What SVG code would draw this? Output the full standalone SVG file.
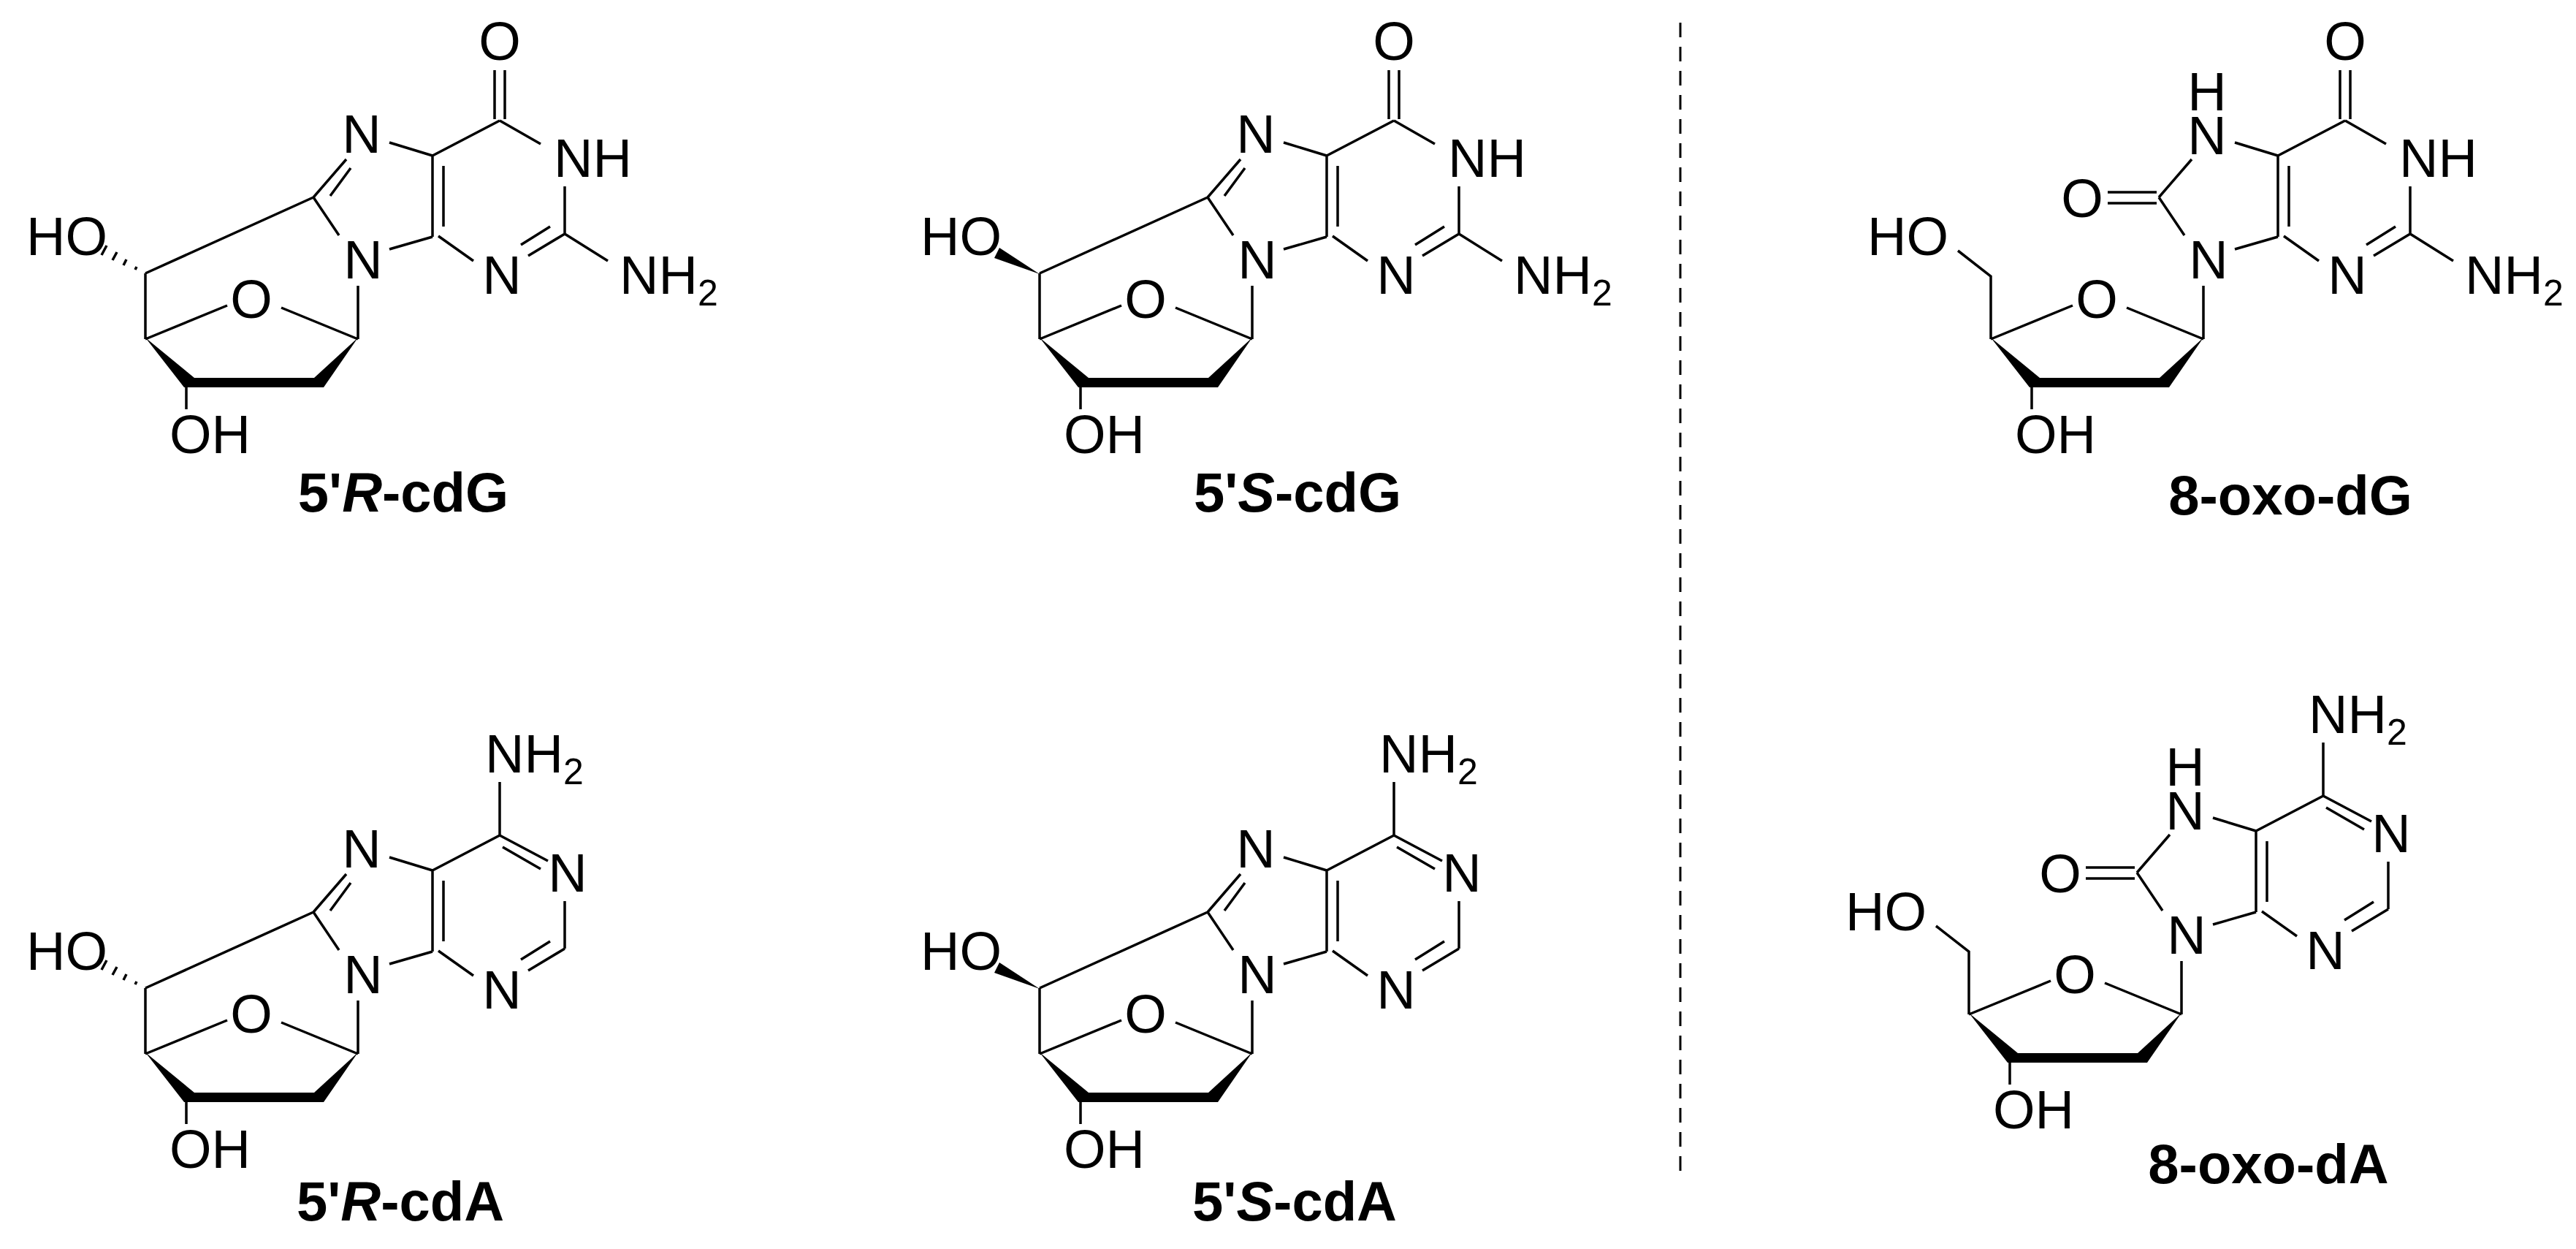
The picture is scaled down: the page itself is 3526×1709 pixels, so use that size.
<svg xmlns="http://www.w3.org/2000/svg" width="3526" height="1709" viewBox="0 0 3526 1709">
<style>
.b{stroke:#000;stroke-width:3.5;fill:none;stroke-linecap:butt}
.w{fill:#000;stroke:none}
.t{font-family:"Liberation Sans",Arial,sans-serif;font-size:74px;fill:#000}
.m{text-anchor:middle}
.lb{font-family:"Liberation Sans",Arial,sans-serif;font-size:76px;font-weight:bold;fill:#000;text-anchor:middle}
.s{font-size:50px}
</style>
<rect width="3526" height="1709" fill="#fff"/>
<g id="connectors">
<line x1="2300" y1="31" x2="2300" y2="1611" stroke="#000" stroke-width="3" stroke-dasharray="20 13"/>
</g>

<g id="mol-5R-cdG">
<path class="b" d="M592,213L533,195M474,218L429,270M480,230L452,268M429,270L464,322M533,341L592,324M592,213L592,324M607,227L607,310M684,165L592,213M600,323L648,357M773,320L723,350M753,310L713,335M773,255L773,320M684,165L740,197M677,96L677,163M691,96L691,163M773,320L832,357M429,270L199,374M199,374L199,464M199,464L311,418M385,421L490,464M490,391L490,464M255,530L255,560"/>
<polygon class="w" points="199,462 266,517 430,517 490,462 443,530 252,530"/>
<path class="b" stroke-width="3" d="M185,369L187,365M169,363L173,355M154,356L160,345M139,349L146,336"/>
<text class="t m" x="684" y="82">O</text>
<text class="t" x="758" y="242">NH</text>
<text class="t m" x="687" y="402">N</text>
<text class="t" x="848" y="402">NH<tspan class="s" dy="16">2</tspan></text>
<text class="t m" x="495" y="209">N</text>
<text class="t m" x="497" y="381">N</text>
<text class="t m" x="344" y="435">O</text>
<text class="t" x="36" y="349">HO</text>
<text class="t" x="232" y="620">OH</text>
<text class="lb" x="552" y="700">5'<tspan font-style="italic">R</tspan>-cdG</text>
</g>

<g id="mol-5S-cdG" transform="translate(1224,0)">
<path class="b" d="M592,213L533,195M474,218L429,270M480,230L452,268M429,270L464,322M533,341L592,324M592,213L592,324M607,227L607,310M684,165L592,213M600,323L648,357M773,320L723,350M753,310L713,335M773,255L773,320M684,165L740,197M677,96L677,163M691,96L691,163M773,320L832,357M429,270L199,374M199,374L199,464M199,464L311,418M385,421L490,464M490,391L490,464M255,530L255,560"/>
<polygon class="w" points="199,462 266,517 430,517 490,462 443,530 252,530"/>
<polygon class="w" points="199,375 144,339 137,353"/>
<text class="t m" x="684" y="82">O</text>
<text class="t" x="758" y="242">NH</text>
<text class="t m" x="687" y="402">N</text>
<text class="t" x="848" y="402">NH<tspan class="s" dy="16">2</tspan></text>
<text class="t m" x="495" y="209">N</text>
<text class="t m" x="497" y="381">N</text>
<text class="t m" x="344" y="435">O</text>
<text class="t" x="36" y="349">HO</text>
<text class="t" x="232" y="620">OH</text>
<text class="lb" x="552" y="700">5'<tspan font-style="italic">S</tspan>-cdG</text>
</g>

<g id="mol-5R-cdA" transform="translate(0,978)">
<path class="b" d="M592,213L533,195M474,218L429,270M480,230L452,268M429,270L464,322M533,341L592,324M592,213L592,324M607,227L607,310M684,165L592,213M600,323L648,357M773,320L723,350M753,310L713,335M773,255L773,320M684,165L750,200M688,181L740,211M684,165L684,92M429,270L199,374M199,374L199,464M199,464L311,418M385,421L490,464M490,391L490,464M255,530L255,560"/>
<polygon class="w" points="199,462 266,517 430,517 490,462 443,530 252,530"/>
<path class="b" stroke-width="3" d="M185,369L187,365M169,363L173,355M154,356L160,345M139,349L146,336"/>
<text class="t" x="664" y="79">NH<tspan class="s" dy="16">2</tspan></text>
<text class="t m" x="777" y="242">N</text>
<text class="t m" x="687" y="402">N</text>
<text class="t m" x="495" y="209">N</text>
<text class="t m" x="497" y="381">N</text>
<text class="t m" x="344" y="435">O</text>
<text class="t" x="36" y="349">HO</text>
<text class="t" x="232" y="620">OH</text>
<text class="lb" x="548" y="692">5'<tspan font-style="italic">R</tspan>-cdA</text>
</g>

<g id="mol-5S-cdA" transform="translate(1224,978)">
<path class="b" d="M592,213L533,195M474,218L429,270M480,230L452,268M429,270L464,322M533,341L592,324M592,213L592,324M607,227L607,310M684,165L592,213M600,323L648,357M773,320L723,350M753,310L713,335M773,255L773,320M684,165L750,200M688,181L740,211M684,165L684,92M429,270L199,374M199,374L199,464M199,464L311,418M385,421L490,464M490,391L490,464M255,530L255,560"/>
<polygon class="w" points="199,462 266,517 430,517 490,462 443,530 252,530"/>
<polygon class="w" points="199,375 144,339 137,353"/>
<text class="t" x="664" y="79">NH<tspan class="s" dy="16">2</tspan></text>
<text class="t m" x="777" y="242">N</text>
<text class="t m" x="687" y="402">N</text>
<text class="t m" x="495" y="209">N</text>
<text class="t m" x="497" y="381">N</text>
<text class="t m" x="344" y="435">O</text>
<text class="t" x="36" y="349">HO</text>
<text class="t" x="232" y="620">OH</text>
<text class="lb" x="548" y="692">5'<tspan font-style="italic">S</tspan>-cdA</text>
</g>

<g id="mol-8-oxo-dG">
<path class="b" d="M3118,213L3059,195M3000,218L2955,270M2955,270L2990,322M3059,341L3118,324M3118,213L3118,324M3133,227L3133,310M3210,165L3118,213M3126,323L3174,357M3299,320L3249,350M3279,310L3239,335M3299,255L3299,320M3210,165L3266,197M3203,96L3203,163M3217,96L3217,163M3299,320L3358,357M2885,263L2952,263M2885,278L2952,278M3016,391L3016,464M2911,421L3016,464M2725,464L2837,418M2725,464L2725,378L2680,343M2781,530L2781,560"/>
<polygon class="w" points="2725,462 2792,517 2956,517 3016,462 2969,530 2778,530"/>
<text class="t m" x="3210" y="82">O</text>
<text class="t" x="3284" y="242">NH</text>
<text class="t m" x="3213" y="402">N</text>
<text class="t" x="3374" y="402">NH<tspan class="s" dy="16">2</tspan></text>
<text class="t m" x="3021" y="211">N</text>
<text class="t m" x="3021" y="151">H</text>
<text class="t m" x="3023" y="381">N</text>
<text class="t m" x="2850" y="297">O</text>
<text class="t m" x="2870" y="435">O</text>
<text class="t" x="2556" y="349">HO</text>
<text class="t" x="2758" y="620">OH</text>
<text class="lb" x="3135" y="704">8-oxo-dG</text>
</g>

<g id="mol-8-oxo-dA" transform="translate(-30,924)">
<path class="b" d="M3118,213L3059,195M3000,218L2955,270M2955,270L2990,322M3059,341L3118,324M3118,213L3118,324M3133,227L3133,310M3210,165L3118,213M3126,323L3174,357M3299,320L3249,350M3279,310L3239,335M3299,255L3299,320M3210,165L3276,200M3214,181L3266,211M3210,165L3210,92M2885,263L2952,263M2885,278L2952,278M3016,391L3016,464M2911,421L3016,464M2725,464L2837,418M2725,464L2725,378L2680,343M2781,530L2781,560"/>
<polygon class="w" points="2725,462 2792,517 2956,517 3016,462 2969,530 2778,530"/>
<text class="t" x="3190" y="79">NH<tspan class="s" dy="16">2</tspan></text>
<text class="t m" x="3303" y="242">N</text>
<text class="t m" x="3213" y="402">N</text>
<text class="t m" x="3021" y="211">N</text>
<text class="t m" x="3021" y="151">H</text>
<text class="t m" x="3023" y="381">N</text>
<text class="t m" x="2850" y="297">O</text>
<text class="t m" x="2870" y="435">O</text>
<text class="t" x="2556" y="349">HO</text>
<text class="t" x="2758" y="620">OH</text>
<text class="lb" x="3135" y="695">8-oxo-dA</text>
</g>
</svg>
